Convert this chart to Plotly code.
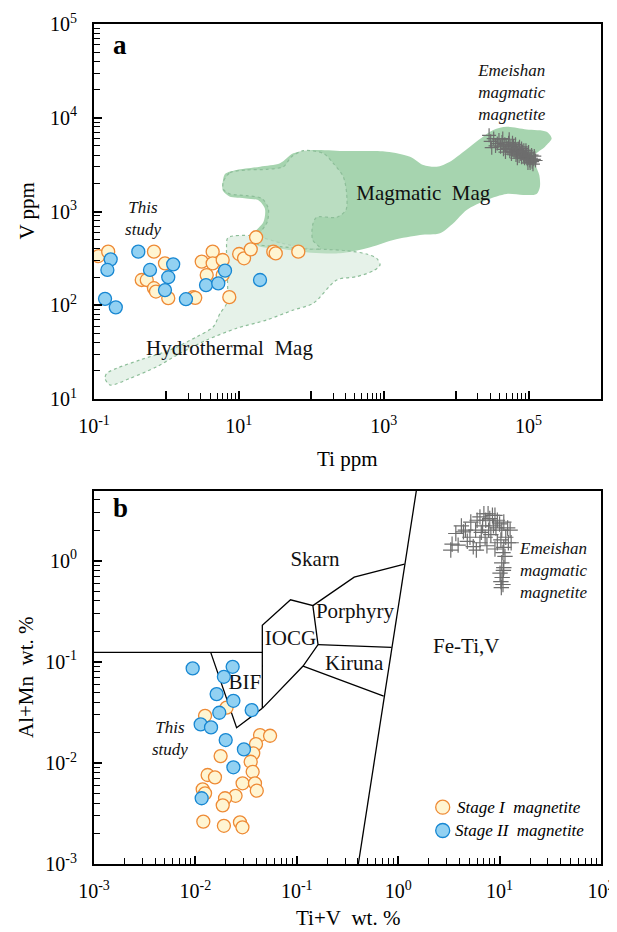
import plotly.graph_objects as go

FONT = "Liberation Serif"

# ---------------- Panel a data (Ti ppm vs V ppm) ----------------
stage1_a_ti = [0.115, 0.157, 0.673, 0.955, 0.456, 0.535, 0.673, 0.717, 1.06, 2.35, 2.5,
               3.07, 4.35, 4.35, 5.98, 3.6, 5.98, 7.38, 10.1, 11.8, 14.6, 17.3, 29.9, 32.3, 66.2]
stage1_a_v = [335, 373, 373, 280, 186, 186, 152, 140, 119, 122, 120,
              292, 373, 280, 304, 210, 210, 122, 352, 317, 395, 531, 373, 358, 373]

stage2_a_ti = [0.170, 0.153, 0.409, 0.593, 1.24, 1.06, 0.955, 1.86, 3.52, 5.2, 6.44, 19.6, 0.142, 0.2]
stage2_a_v = [309, 238, 373, 238, 273, 199, 145, 116, 164, 171, 234, 186, 117, 95]

emei_a_ti = [28500, 30000, 31000, 37000, 39000, 41000, 43000, 45000, 47000, 48000, 50000,
             52000, 53000, 55000, 57000, 58000, 60000, 62000, 63000, 65000, 67000, 68000,
             70000, 72000, 74000, 76000, 78000, 80000, 82000, 85000, 88000, 90000, 93000,
             96000, 100000, 104000, 108000, 112000, 118000, 125000, 105000, 95000, 86000,
             33000, 35000, 44000, 54000, 60000, 66000, 75000, 80000, 92000, 100000, 110000,
             115000, 98000, 120000, 70000]
emei_a_v = [6500, 5600, 4800, 5300, 5800, 4900, 5500, 4600, 5200, 4300, 5000,
            4700, 5400, 4400, 4900, 4100, 4600, 5000, 4300, 4700, 4000, 4500,
            4200, 4700, 3900, 4400, 4100, 3800, 4300, 4000, 3700, 4100, 3900,
            3600, 3800, 3500, 3700, 3400, 3600, 3500, 3300, 4200, 4500,
            6000, 5000, 6000, 5900, 5400, 5200, 4900, 4700, 4500, 4300, 4000,
            3200, 3300, 3900, 3700]

# Field outlines (Ti ppm, V ppm)
magmatic_ti = [5.97, 6.44, 9.33, 19.6, 37.0, 56.5, 106.7, 307.6, 1096, 2307, 3524, 5383, 8222,
               15520, 32580, 49770, 93970, 177400, 208400, 168700, 122500, 122500, 140600,
               143500, 129100, 84530, 49770, 26360, 13960, 9141, 5984, 3170, 1358, 580.8,
               248.9, 100, 39.8, 17.8, 16.2, 21.9, 22.9, 18.6, 12.6, 7.41, 6.03, 5.97]
magmatic_v = [1995, 2512, 2773, 3006, 3266, 4169, 4529, 4416, 4345, 3846, 3133, 3006, 3404,
              4920, 7396, 8035, 7516, 7112, 6026, 4909, 4009, 3266, 2449,
              1841, 1538, 1500, 1538, 1327, 1038, 748, 585, 561, 497, 405,
              358, 363, 398, 437, 575, 776, 1072, 1318, 1380, 1445, 1660, 1995]

upper_ti = [6.11, 7.55, 12.8, 24.2, 41.1, 53.6, 77.6, 146.6, 201.4, 276.7, 307.6, 301.3, 223.9,
            118.6, 104.5, 104.5, 131.8, 37.0, 17.6, 19.6, 24.7, 25.5, 20.7, 12.8, 7.55, 6.11, 6.11]
upper_v = [2080, 2594, 2773, 2818, 3006, 3846, 4457, 4169, 3266, 2350, 1563, 1038, 867,
           867, 718, 497, 405, 422, 457, 585, 778, 1081, 1380, 1476, 1538, 1722, 2080]

hydro_ti = [7.08, 15.8, 39.8, 86.3, 162.9, 307.6, 582, 800, 889, 718, 423.6, 224.4, 106.7, 56.5,
            24.2, 9.33, 3.60, 1.54, 0.735, 0.314, 0.166, 0.142, 0.150, 0.206, 0.432, 1.12,
            2.62, 4.44, 5.50, 6.79, 6.92, 6.76, 7.08]
hydro_v = [525, 550, 457, 405, 394, 382, 352, 316, 269, 233, 202, 186, 105, 88.9,
           69.7, 56.8, 42.6, 30.7, 22.1, 16.6, 14.1, 16.6, 18.8, 21.3, 26.1, 33.3,
           46.1, 59.0, 82.0, 105, 224, 398, 525]

# ---------------- Panel b data (Ti+V wt.% vs Al+Mn wt.%) ----------------
stage1_b_x = [0.01245, 0.0203, 0.0434, 0.0545, 0.0396, 0.0372, 0.01773, 0.0351, 0.0367, 0.0132,
              0.0156, 0.0292, 0.0387, 0.0403, 0.0118, 0.01245, 0.0249, 0.0196, 0.0186, 0.01197,
              0.0191, 0.0275, 0.0291]
stage1_b_y = [0.0293, 0.0353, 0.0189, 0.0186, 0.0154, 0.01247, 0.01172, 0.0103, 0.0082, 0.00762,
              0.00723, 0.00631, 0.00631, 0.00533, 0.0055, 0.00502, 0.00475, 0.00449, 0.00382, 0.00264,
              0.0024, 0.0026, 0.00232]

stage2_b_x = [0.0094, 0.0233, 0.0191, 0.0162, 0.0237, 0.0172, 0.0359, 0.01127, 0.01426, 0.0199,
              0.0301, 0.0237, 0.01153]
stage2_b_y = [0.0861, 0.0893, 0.0711, 0.048, 0.0412, 0.0314, 0.0333, 0.0241, 0.0225, 0.01687,
              0.01364, 0.00908, 0.00449]

emei_b_x = [3.3, 3.4, 3.9, 3.7, 4.4, 4.2, 5.1, 5.5, 5.9, 4.8, 4.6, 5.2,
            6.0, 6.4, 6.8, 7.0, 7.7, 7.3, 8.0, 8.5, 9.0, 9.5, 8.7, 7.8, 6.6, 7.2, 8.2, 9.2,
            10.0, 10.5, 11.0, 12.0, 12.7, 11.5, 10.3, 9.5, 12.2, 13.0, 11.0, 9.0, 6.4, 5.8, 7.5,
            10.8, 11.3, 10.5, 11.0, 10.9, 10.1, 10.6, 10.3, 10.8, 10.4]
emei_b_y = [1.27, 1.45, 1.42, 1.85, 1.92, 2.2, 1.7, 1.37, 1.27, 1.55, 2.0, 2.4,
            2.5, 2.7, 2.2, 2.9, 2.9, 2.5, 2.6, 2.8, 2.8, 2.5, 2.2, 2.0, 1.9, 1.7, 1.8, 2.1,
            2.3, 2.0, 2.4, 2.1, 2.0, 1.7, 1.6, 1.5, 1.5, 1.5, 1.35, 1.3, 1.5, 2.0, 1.4,
            1.2, 1.1, 0.95, 0.85, 0.80, 0.75, 0.68, 0.62, 0.58, 0.54]

# Discrimination field boundaries (Ti+V, Al+Mn)
bound_lines = [
    ([0.001, 0.0457], [0.124, 0.124]),
    ([0.01416, 0.0255, 0.0457], [0.124, 0.0223, 0.0347]),
    ([0.0457, 0.0457, 0.0867, 0.144, 0.162, 0.1153, 0.0457], [0.0347, 0.230, 0.410, 0.359, 0.148, 0.0908, 0.0347]),
    ([0.144, 0.368, 1.154], [0.359, 0.685, 0.920]),
    ([0.162, 0.861], [0.148, 0.139]),
    ([0.1153, 0.719], [0.0908, 0.0459]),
    ([1.51, 0.404], [4.9, 0.001]),
]

field_labels_b = ["Skarn", "Porphyry", "IOCG", "Kiruna", "BIF", "Fe-Ti,V"]
field_x_b = [0.151, 0.375, 0.0867, 0.368, 0.0308, 4.69]
field_y_b = [1.0, 0.303, 0.166, 0.094, 0.0608, 0.137]

# ---------------- colours ----------------
ORANGE_LINE = "#ee8a35"
ORANGE_FILL = "#fff5d2"
BLUE_LINE = "#1787d2"
BLUE_FILL = "#92d1f2"
MAG_FILL = "#a6d4af"
HYD_FILL = "rgba(205,229,212,0.5)"
DASH_COL = "#8dbe99"
CROSS_COL = "#6e6e6e"

# page body has an 8px margin; work in the reference's pixel frame and offset
OFF = 8
W = 617 - OFF
H = 932 - OFF


def px_x(px):
    return (px - OFF) / W


def px_y(py):
    return 1 - (py - OFF) / H


fig = go.Figure()

# ---- Panel a fields ----
fig.add_trace(go.Scatter(x=magmatic_ti, y=magmatic_v, mode="lines", fill="toself",
                         fillcolor=MAG_FILL, line=dict(width=0, shape="spline", smoothing=0.8),
                         hoverinfo="skip", xaxis="x", yaxis="y"))
fig.add_trace(go.Scatter(x=hydro_ti, y=hydro_v, mode="lines", fill="toself",
                         fillcolor=HYD_FILL, line=dict(width=1.2, color=DASH_COL, dash="3px,3px",
                                                       shape="spline", smoothing=0.8),
                         hoverinfo="skip", xaxis="x", yaxis="y"))
fig.add_trace(go.Scatter(x=upper_ti, y=upper_v, mode="lines", fill="toself",
                         fillcolor=HYD_FILL, line=dict(width=1.2, color=DASH_COL, dash="3px,3px",
                                                       shape="spline", smoothing=0.8),
                         hoverinfo="skip", xaxis="x", yaxis="y"))

# ---- Panel a labels ----
fig.add_trace(go.Scatter(
    x=[3520, 7.43, 0.475, 58500], y=[1500, 33.3, 820, 18200], mode="text",
    text=["Magmatic\u00a0 Mag", "Hydrothermal\u00a0 Mag", "<i>This</i><br><i>study</i>",
          "<i>Emeishan</i><br><i>magmatic</i><br><i>magnetite</i>"],
    textfont=dict(family=FONT, size=[21, 21, 17, 17], color="#111111"),
    textposition="middle center", hoverinfo="skip", xaxis="x", yaxis="y"))

fig.add_trace(go.Scatter(x=emei_a_ti, y=emei_a_v, mode="markers",
                         marker=dict(symbol="cross-thin", size=10, line=dict(width=1.2, color=CROSS_COL)),
                         hoverinfo="skip", xaxis="x", yaxis="y"))
fig.add_trace(go.Scatter(x=stage1_a_ti, y=stage1_a_v, mode="markers",
                         marker=dict(size=13, color=ORANGE_FILL, line=dict(width=1.3, color=ORANGE_LINE)),
                         xaxis="x", yaxis="y"))
fig.add_trace(go.Scatter(x=stage2_a_ti, y=stage2_a_v, mode="markers",
                         marker=dict(size=13, color=BLUE_FILL, line=dict(width=1.3, color=BLUE_LINE)),
                         xaxis="x", yaxis="y"))

# ---- Panel b ----
for bx, by in bound_lines:
    fig.add_trace(go.Scatter(x=bx, y=by, mode="lines", line=dict(color="black", width=1.3),
                             hoverinfo="skip", xaxis="x2", yaxis="y2"))

fig.add_trace(go.Scatter(x=field_x_b, y=field_y_b, mode="text", text=field_labels_b,
                         textfont=dict(family=FONT, size=21, color="#111111"),
                         textposition="middle center", hoverinfo="skip", xaxis="x2", yaxis="y2"))
fig.add_trace(go.Scatter(x=[0.0056], y=[0.0169], mode="text", text=["<i>This</i><br><i>study</i>"],
                         textfont=dict(family=FONT, size=17, color="#111111"),
                         textposition="middle center", hoverinfo="skip", xaxis="x2", yaxis="y2"))
fig.add_trace(go.Scatter(x=[15.9], y=[0.773], mode="text",
                         text=["<i>Emeishan</i><br><i>magmatic</i><br><i>magnetite</i>"],
                         textfont=dict(family=FONT, size=17, color="#111111"),
                         textposition="middle right", hoverinfo="skip", xaxis="x2", yaxis="y2"))

fig.add_trace(go.Scatter(x=emei_b_x, y=emei_b_y, mode="markers",
                         marker=dict(symbol="cross-thin", size=11, line=dict(width=1.2, color=CROSS_COL)),
                         hoverinfo="skip", xaxis="x2", yaxis="y2"))
fig.add_trace(go.Scatter(x=stage1_b_x, y=stage1_b_y, mode="markers",
                         marker=dict(size=13, color=ORANGE_FILL, line=dict(width=1.3, color=ORANGE_LINE)),
                         xaxis="x2", yaxis="y2"))
fig.add_trace(go.Scatter(x=stage2_b_x, y=stage2_b_y, mode="markers",
                         marker=dict(size=13, color=BLUE_FILL, line=dict(width=1.3, color=BLUE_LINE)),
                         xaxis="x2", yaxis="y2"))


def sup(e):
    return "10<sup>%s</sup>" % e


def log_axis(rng, majors, labels, minors, domain, anchor):
    return dict(type="log", range=rng, domain=domain, anchor=anchor, automargin=False,
                showline=True, linecolor="black", linewidth=2, mirror=True,
                showgrid=False, zeroline=False,
                ticks="inside", ticklen=8, tickwidth=1.6, tickcolor="black",
                tickmode="array", tickvals=majors, ticktext=labels,
                tickfont=dict(family=FONT, size=20, color="black"),
                ticklabelstandoff=6,
                minor=dict(ticks="inside", ticklen=6, tickwidth=1.4, tickcolor="black",
                           tickmode="array", tickvals=minors, showgrid=False))


ks = [2, 3, 4, 5, 6, 7, 8, 9]
xa_major = [0.1, 1, 10, 100, 1e3, 1e4, 1e5, 1e6]
xa_lab = [sup(-1), "", sup(1), "", sup(3), "", sup(5), ""]
xa_minor = [k * 10 ** d for d in (0, 2, 4) for k in ks]
ya_major = [10, 100, 1e3, 1e4, 1e5]
ya_lab = [sup(1), sup(2), sup(3), sup(4), sup(5)]
ya_minor = [k * 10 ** d for d in (1, 2, 3, 4) for k in ks]

xb_major = [1e-3, 1e-2, 1e-1, 1, 10, 100]
xb_lab = [sup(-3), sup(-2), sup(-1), sup(0), sup(1), sup(2)]
xb_minor = [k * 10.0 ** d for d in (-3, -2, -1, 0, 1) for k in ks]
yb_major = [1e-3, 1e-2, 1e-1, 1]
yb_lab = [sup(-3), sup(-2), sup(-1), sup(0)]
yb_minor = [k * 10.0 ** d for d in (-3, -2, -1) for k in ks] + [2, 3, 4]

XDOM = [px_x(94), px_x(601)]
YDOM_A = [px_y(399), px_y(24)]
YDOM_B = [px_y(864.3), px_y(490.7)]

xa = log_axis([-1, 6], xa_major, xa_lab, xa_minor, XDOM, "y")
ya = log_axis([1, 5], ya_major, ya_lab, ya_minor, YDOM_A, "x")
xb = log_axis([-3, 2], xb_major, xb_lab, xb_minor, XDOM, "y2")
yb = log_axis([-3, 0.69], yb_major, yb_lab, yb_minor, YDOM_B, "x2")
xa["ticklabelstandoff"] = 8
xb["ticklabelstandoff"] = 8
ya["ticklabelstandoff"] = 11
yb["ticklabelstandoff"] = 11


def pann(text, px, py, size, angle=0, xanchor="center"):
    return dict(text=text, x=px_x(px), y=px_y(py), xref="paper", yref="paper",
                showarrow=False, textangle=angle, xanchor=xanchor, yanchor="middle",
                font=dict(family=FONT, size=size, color="black"))


annotations = [
    pann("<b>a</b>", 120, 45, 27),
    pann("<b>b</b>", 120, 508, 27),
    pann("V ppm", 26, 211.5, 21, -90),
    pann("Ti ppm", 347.5, 459, 21),
    pann("Al+Mn\u00a0 wt. %", 26, 677, 21, -90),
    pann("Ti+V\u00a0 wt. %", 347.5, 918, 21),
    pann("<i>Stage I\u00a0 magnetite</i>", 454.5, 807.2, 17, xanchor="left"),
    pann("<i>Stage II\u00a0 magnetite</i>", 452.5, 830.5, 17, xanchor="left"),
]


def circ(cx, cy, fill, line):
    r = 7
    return dict(type="circle", xref="paper", yref="paper",
                x0=px_x(cx - r), x1=px_x(cx + r), y0=px_y(cy + r), y1=px_y(cy - r),
                fillcolor=fill, line=dict(color=line, width=1.3))


shapes = [circ(442.7, 807.2, ORANGE_FILL, ORANGE_LINE), circ(442.7, 830.5, BLUE_FILL, BLUE_LINE)]

fig.update_layout(
    width=W, height=H, margin=dict(l=0, r=0, t=0, b=0, autoexpand=False),
    paper_bgcolor="white", plot_bgcolor="white", showlegend=False,
    xaxis=xa, yaxis=ya, xaxis2=xb, yaxis2=yb,
    annotations=annotations, shapes=shapes,
    font=dict(family=FONT),
)

fig.write_html("out.html")
